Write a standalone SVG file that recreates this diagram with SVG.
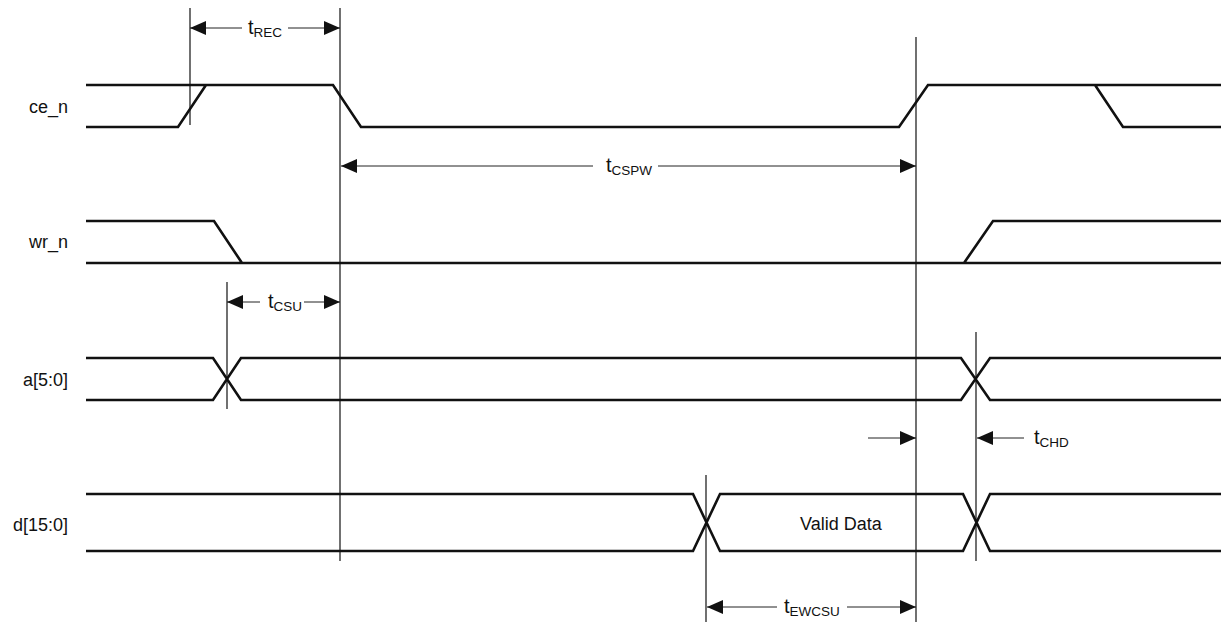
<svg xmlns="http://www.w3.org/2000/svg" width="1224" height="626" viewBox="0 0 1224 626">
<style>
.sig{fill:none;stroke:#111;stroke-width:2.6;stroke-linejoin:miter}
.ref{fill:none;stroke:#111;stroke-width:1.2}
.dim{fill:none;stroke:#222;stroke-width:1}
.lbl{font-family:"Liberation Sans",Arial,sans-serif;font-size:18px;fill:#111}
.t{font-size:20px}
.sub{font-size:13.5px}
</style>
<defs>
<marker id="ah" markerUnits="userSpaceOnUse" markerWidth="16" markerHeight="14" refX="16" refY="7" orient="auto-start-reverse" viewBox="0 0 16 14">
<path d="M0,0 L16,7 L0,14 z" fill="#111"/>
</marker>
</defs>
<rect width="1224" height="626" fill="#fff"/>

<g id="ce_n">
<text class="lbl" x="68" y="113" text-anchor="end">ce_n</text>
<path class="sig" d="M86,85 H333 L361,127 H899 L928,85 H1221 M86,127 H178 L206,85 M1095,85 L1123,127 H1221"/>
</g>

<g id="wr_n">
<text class="lbl" x="68" y="248" text-anchor="end">wr_n</text>
<path class="sig" d="M86,221 H214 L242,263 M86,263 H1221 M964,263 L993,221 H1221"/>
</g>

<g id="a">
<text class="lbl" x="68" y="386" text-anchor="end">a[5:0]</text>
<path class="sig" d="M86,358 H213 L241,400 H961 L990,358 H1221 M86,400 H213 L241,358 H961 L990,400 H1221"/>
</g>

<g id="d">
<text class="lbl" x="68" y="531" text-anchor="end">d[15:0]</text>
<path class="sig" d="M86,494 H693 L720,551 H963 L990,494 H1221 M86,551 H693 L720,494 H963 L990,551 H1221"/>
<text class="lbl" x="800" y="530">Valid Data</text>
</g>

<g id="reference-lines">
<line class="ref" x1="190" y1="8" x2="190" y2="125"/>
<line class="ref" x1="340" y1="8" x2="340" y2="561"/>
<line class="ref" x1="916" y1="37" x2="916" y2="622"/>
<line class="ref" x1="227" y1="282" x2="227" y2="409"/>
<line class="ref" x1="976" y1="332" x2="976" y2="561"/>
<line class="ref" x1="706" y1="475" x2="706" y2="622"/>
</g>

<g id="connectors">
<line class="dim" x1="242" y1="28" x2="190" y2="28" marker-end="url(#ah)"/>
<line class="dim" x1="288" y1="28" x2="340" y2="28" marker-end="url(#ah)"/>
<line class="dim" x1="593" y1="166" x2="341" y2="166" marker-end="url(#ah)"/>
<line class="dim" x1="658" y1="166" x2="916" y2="166" marker-end="url(#ah)"/>
<line class="dim" x1="260" y1="302" x2="227" y2="302" marker-end="url(#ah)"/>
<line class="dim" x1="304" y1="302" x2="340" y2="302" marker-end="url(#ah)"/>
<line class="dim" x1="868" y1="438" x2="916" y2="438" marker-end="url(#ah)"/>
<line class="dim" x1="1024" y1="438" x2="977" y2="438" marker-end="url(#ah)"/>
<line class="dim" x1="777" y1="607" x2="707" y2="607" marker-end="url(#ah)"/>
<line class="dim" x1="847" y1="607" x2="916" y2="607" marker-end="url(#ah)"/>
</g>

<g id="labels">
<text class="lbl t" x="248" y="34">t<tspan class="sub" dy="3">REC</tspan></text>
<text class="lbl t" x="606" y="172">t<tspan class="sub" dy="3">CSPW</tspan></text>
<text class="lbl t" x="268" y="308">t<tspan class="sub" dy="3">CSU</tspan></text>
<text class="lbl t" x="1034" y="444">t<tspan class="sub" dy="3">CHD</tspan></text>
<text class="lbl t" x="784" y="613">t<tspan class="sub" dy="3">EWCSU</tspan></text>
</g>
</svg>
